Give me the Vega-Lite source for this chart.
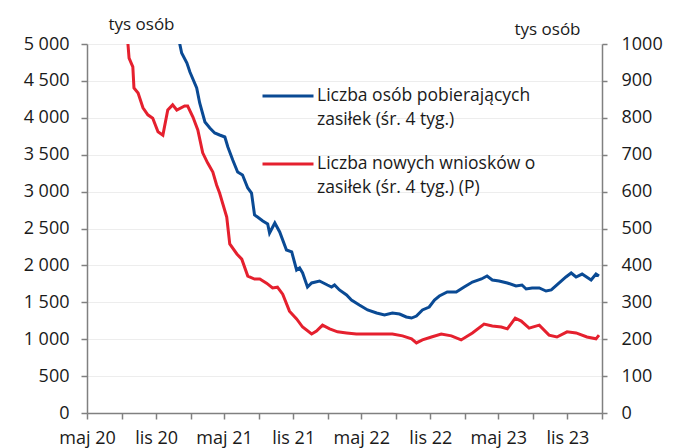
{
  "$schema": "https://vega.github.io/schema/vega-lite/v6.json",
  "width": 515,
  "height": 369,
  "autosize": {"type": "none"},
  "padding": {"left": 87, "top": 44, "right": 79, "bottom": 35},
  "config": {
    "font": "Open Sans",
    "view": {"stroke": null},
    "axis": {
      "domainColor": "#808080",
      "domainWidth": 1.5,
      "tickColor": "#808080",
      "tickWidth": 1.5,
      "tickSize": 6,
      "labelColor": "#1a1a1a",
      "labelFontSize": 18,
      "titleColor": "#1a1a1a",
      "titleFontSize": 17,
      "titleFontWeight": "normal"
    }
  },
  "encoding": {
    "x": {
      "field": "date",
      "type": "temporal",
      "scale": {
        "type": "utc",
        "domain": [
          {"year": 2020, "month": 5, "date": 1, "utc": true},
          {"year": 2024, "month": 2, "date": 1, "utc": true}
        ]
      },
      "axis": {
        "title": null,
        "grid": false,
        "labelFlush": false,
        "labelOverlap": false,
        "labelPadding": 10,
        "values": [
          {"year": 2020, "month": 5, "date": 1, "utc": true},
          {"year": 2020, "month": 8, "date": 1, "utc": true},
          {"year": 2020, "month": 11, "date": 1, "utc": true},
          {"year": 2021, "month": 2, "date": 1, "utc": true},
          {"year": 2021, "month": 5, "date": 1, "utc": true},
          {"year": 2021, "month": 8, "date": 1, "utc": true},
          {"year": 2021, "month": 11, "date": 1, "utc": true},
          {"year": 2022, "month": 2, "date": 1, "utc": true},
          {"year": 2022, "month": 5, "date": 1, "utc": true},
          {"year": 2022, "month": 8, "date": 1, "utc": true},
          {"year": 2022, "month": 11, "date": 1, "utc": true},
          {"year": 2023, "month": 2, "date": 1, "utc": true},
          {"year": 2023, "month": 5, "date": 1, "utc": true},
          {"year": 2023, "month": 8, "date": 1, "utc": true},
          {"year": 2023, "month": 11, "date": 1, "utc": true},
          {"year": 2024, "month": 2, "date": 1, "utc": true}
        ],
        "labelExpr": "utcmonth(datum.value) == 4 ? 'maj ' + utcFormat(datum.value, '%y') : (utcmonth(datum.value) == 10 ? 'lis ' + utcFormat(datum.value, '%y') : '')"
      }
    }
  },
  "layer": [
    {
      "data": {"values": [
        {"date": "2020-12-23", "value": 5400},
        {"date": "2021-01-03", "value": 5000},
        {"date": "2021-01-08", "value": 4878},
        {"date": "2021-01-22", "value": 4743},
        {"date": "2021-01-30", "value": 4621},
        {"date": "2021-02-17", "value": 4404},
        {"date": "2021-02-25", "value": 4201},
        {"date": "2021-03-11", "value": 3943},
        {"date": "2021-03-24", "value": 3862},
        {"date": "2021-04-06", "value": 3794},
        {"date": "2021-04-19", "value": 3767},
        {"date": "2021-05-03", "value": 3740},
        {"date": "2021-05-11", "value": 3604},
        {"date": "2021-05-24", "value": 3428},
        {"date": "2021-06-06", "value": 3266},
        {"date": "2021-06-19", "value": 3225},
        {"date": "2021-07-03", "value": 3049},
        {"date": "2021-07-13", "value": 2981},
        {"date": "2021-07-21", "value": 2683},
        {"date": "2021-07-29", "value": 2656},
        {"date": "2021-08-12", "value": 2602},
        {"date": "2021-08-25", "value": 2561},
        {"date": "2021-08-30", "value": 2439},
        {"date": "2021-09-13", "value": 2575},
        {"date": "2021-09-26", "value": 2453},
        {"date": "2021-10-14", "value": 2209},
        {"date": "2021-10-28", "value": 2182},
        {"date": "2021-11-10", "value": 1938},
        {"date": "2021-11-18", "value": 1965},
        {"date": "2021-11-26", "value": 1897},
        {"date": "2021-12-09", "value": 1707},
        {"date": "2021-12-20", "value": 1762},
        {"date": "2022-01-10", "value": 1789},
        {"date": "2022-01-31", "value": 1734},
        {"date": "2022-02-11", "value": 1707},
        {"date": "2022-02-19", "value": 1734},
        {"date": "2022-03-04", "value": 1667},
        {"date": "2022-03-23", "value": 1599},
        {"date": "2022-04-05", "value": 1531},
        {"date": "2022-04-26", "value": 1463},
        {"date": "2022-05-18", "value": 1396},
        {"date": "2022-06-11", "value": 1355},
        {"date": "2022-07-02", "value": 1328},
        {"date": "2022-07-23", "value": 1355},
        {"date": "2022-08-11", "value": 1341},
        {"date": "2022-08-29", "value": 1301},
        {"date": "2022-09-12", "value": 1287},
        {"date": "2022-09-25", "value": 1314},
        {"date": "2022-10-11", "value": 1396},
        {"date": "2022-10-29", "value": 1436},
        {"date": "2022-11-12", "value": 1531},
        {"date": "2022-11-25", "value": 1585},
        {"date": "2022-12-16", "value": 1640},
        {"date": "2023-01-09", "value": 1640},
        {"date": "2023-01-30", "value": 1707},
        {"date": "2023-02-21", "value": 1775},
        {"date": "2023-03-17", "value": 1816},
        {"date": "2023-04-01", "value": 1856},
        {"date": "2023-04-15", "value": 1802},
        {"date": "2023-05-03", "value": 1789},
        {"date": "2023-05-25", "value": 1762},
        {"date": "2023-06-17", "value": 1721},
        {"date": "2023-07-03", "value": 1734},
        {"date": "2023-07-14", "value": 1680},
        {"date": "2023-07-30", "value": 1694},
        {"date": "2023-08-18", "value": 1694},
        {"date": "2023-09-05", "value": 1653},
        {"date": "2023-09-19", "value": 1667},
        {"date": "2023-10-10", "value": 1762},
        {"date": "2023-10-28", "value": 1843},
        {"date": "2023-11-11", "value": 1897},
        {"date": "2023-11-24", "value": 1843},
        {"date": "2023-12-10", "value": 1883},
        {"date": "2024-01-03", "value": 1802},
        {"date": "2024-01-16", "value": 1883},
        {"date": "2024-01-24", "value": 1856}
      ]},
      "mark": {"type": "line", "clip": true, "strokeWidth": 3},
      "encoding": {
        "y": {
          "field": "value",
          "type": "quantitative",
          "scale": {"domain": [0, 5000]},
          "axis": {
            "orient": "left",
            "values": [0, 500, 1000, 1500, 2000, 2500, 3000, 3500, 4000, 4500, 5000],
            "labelExpr": "replace(format(datum.value, ','), ',', ' ')",
            "labelPadding": 12,
            "grid": true,
            "gridColor": "#ededed",
            "gridWidth": 1,
            "title": "tys osób",
            "titleAngle": 0,
            "titleAlign": "center",
            "titleBaseline": "alphabetic",
            "titleX": 54,
            "titleY": -15
          }
        },
        "color": {
          "datum": "Liczba osób pobierających zasiłek (śr. 4 tyg.)",
          "scale": {
            "domain": ["Liczba osób pobierających zasiłek (śr. 4 tyg.)", "Liczba nowych wniosków o zasiłek (śr. 4 tyg.) (P)"],
            "range": ["#0a4a94", "#e5202e"]
          },
          "legend": {
            "orient": "none",
            "legendX": 174,
            "legendY": 25,
            "padding": 0,
            "title": null,
            "symbolType": "stroke",
            "symbolSize": 2601,
            "symbolStrokeWidth": 3,
            "labelFontSize": 17.5,
            "labelColor": "#1a1a1a",
            "labelOffset": 2,
            "labelLimit": 400,
            "rowPadding": 8,
            "labelExpr": "indexof(datum.label, 'pobier') >= 0 ? ['Liczba osób pobierających', 'zasiłek (śr. 4 tyg.)'] : ['Liczba nowych wniosków o', 'zasiłek (śr. 4 tyg.) (P)']",
            "encode": {"labels": {"update": {"lineHeight": {"value": 24}}}}
          }
        }
      }
    },
    {
      "data": {"values": [
        {"date": "2020-08-07", "value": 1150},
        {"date": "2020-08-18", "value": 1000},
        {"date": "2020-08-21", "value": 962},
        {"date": "2020-08-31", "value": 938},
        {"date": "2020-09-03", "value": 881},
        {"date": "2020-09-14", "value": 867},
        {"date": "2020-09-27", "value": 827},
        {"date": "2020-10-10", "value": 808},
        {"date": "2020-10-23", "value": 799},
        {"date": "2020-11-06", "value": 762},
        {"date": "2020-11-19", "value": 753},
        {"date": "2020-12-02", "value": 821},
        {"date": "2020-12-15", "value": 835},
        {"date": "2020-12-26", "value": 821},
        {"date": "2021-01-16", "value": 832},
        {"date": "2021-01-24", "value": 832},
        {"date": "2021-02-07", "value": 802},
        {"date": "2021-02-20", "value": 767},
        {"date": "2021-03-05", "value": 705},
        {"date": "2021-03-18", "value": 678},
        {"date": "2021-04-01", "value": 653},
        {"date": "2021-04-11", "value": 618},
        {"date": "2021-04-19", "value": 596},
        {"date": "2021-05-08", "value": 531},
        {"date": "2021-05-16", "value": 458},
        {"date": "2021-06-04", "value": 431},
        {"date": "2021-06-17", "value": 417},
        {"date": "2021-07-03", "value": 371},
        {"date": "2021-07-21", "value": 363},
        {"date": "2021-08-04", "value": 363},
        {"date": "2021-08-22", "value": 352},
        {"date": "2021-09-07", "value": 339},
        {"date": "2021-09-20", "value": 341},
        {"date": "2021-10-04", "value": 322},
        {"date": "2021-10-22", "value": 276},
        {"date": "2021-11-10", "value": 255},
        {"date": "2021-11-26", "value": 233},
        {"date": "2021-12-20", "value": 214},
        {"date": "2022-01-02", "value": 222},
        {"date": "2022-01-18", "value": 238},
        {"date": "2022-02-06", "value": 228},
        {"date": "2022-02-27", "value": 220},
        {"date": "2022-03-23", "value": 217},
        {"date": "2022-04-18", "value": 214},
        {"date": "2022-05-15", "value": 214},
        {"date": "2022-06-19", "value": 214},
        {"date": "2022-07-23", "value": 214},
        {"date": "2022-08-19", "value": 209},
        {"date": "2022-09-12", "value": 201},
        {"date": "2022-09-25", "value": 190},
        {"date": "2022-10-11", "value": 198},
        {"date": "2022-11-04", "value": 206},
        {"date": "2022-11-30", "value": 214},
        {"date": "2022-12-27", "value": 209},
        {"date": "2023-01-22", "value": 198},
        {"date": "2023-02-21", "value": 217},
        {"date": "2023-03-24", "value": 241},
        {"date": "2023-04-15", "value": 236},
        {"date": "2023-05-09", "value": 233},
        {"date": "2023-05-25", "value": 228},
        {"date": "2023-06-15", "value": 257},
        {"date": "2023-07-01", "value": 249},
        {"date": "2023-07-22", "value": 230},
        {"date": "2023-08-18", "value": 238},
        {"date": "2023-09-13", "value": 211},
        {"date": "2023-10-04", "value": 206},
        {"date": "2023-10-31", "value": 220},
        {"date": "2023-11-24", "value": 217},
        {"date": "2023-12-23", "value": 206},
        {"date": "2024-01-16", "value": 201},
        {"date": "2024-01-24", "value": 211}
      ]},
      "mark": {"type": "line", "clip": true, "strokeWidth": 3},
      "encoding": {
        "y": {
          "field": "value",
          "type": "quantitative",
          "scale": {"domain": [0, 1000]},
          "axis": {
            "orient": "right",
            "values": [0, 100, 200, 300, 400, 500, 600, 700, 800, 900, 1000],
            "format": "d",
            "tickSize": 5,
            "labelPadding": 14,
            "grid": false,
            "title": "tys osób",
            "titleAngle": 0,
            "titleAlign": "center",
            "titleBaseline": "alphabetic",
            "titleX": -55,
            "titleY": -10
          }
        },
        "color": {"datum": "Liczba nowych wniosków o zasiłek (śr. 4 tyg.) (P)"}
      }
    }
  ],
  "resolve": {"scale": {"y": "independent"}}
}
